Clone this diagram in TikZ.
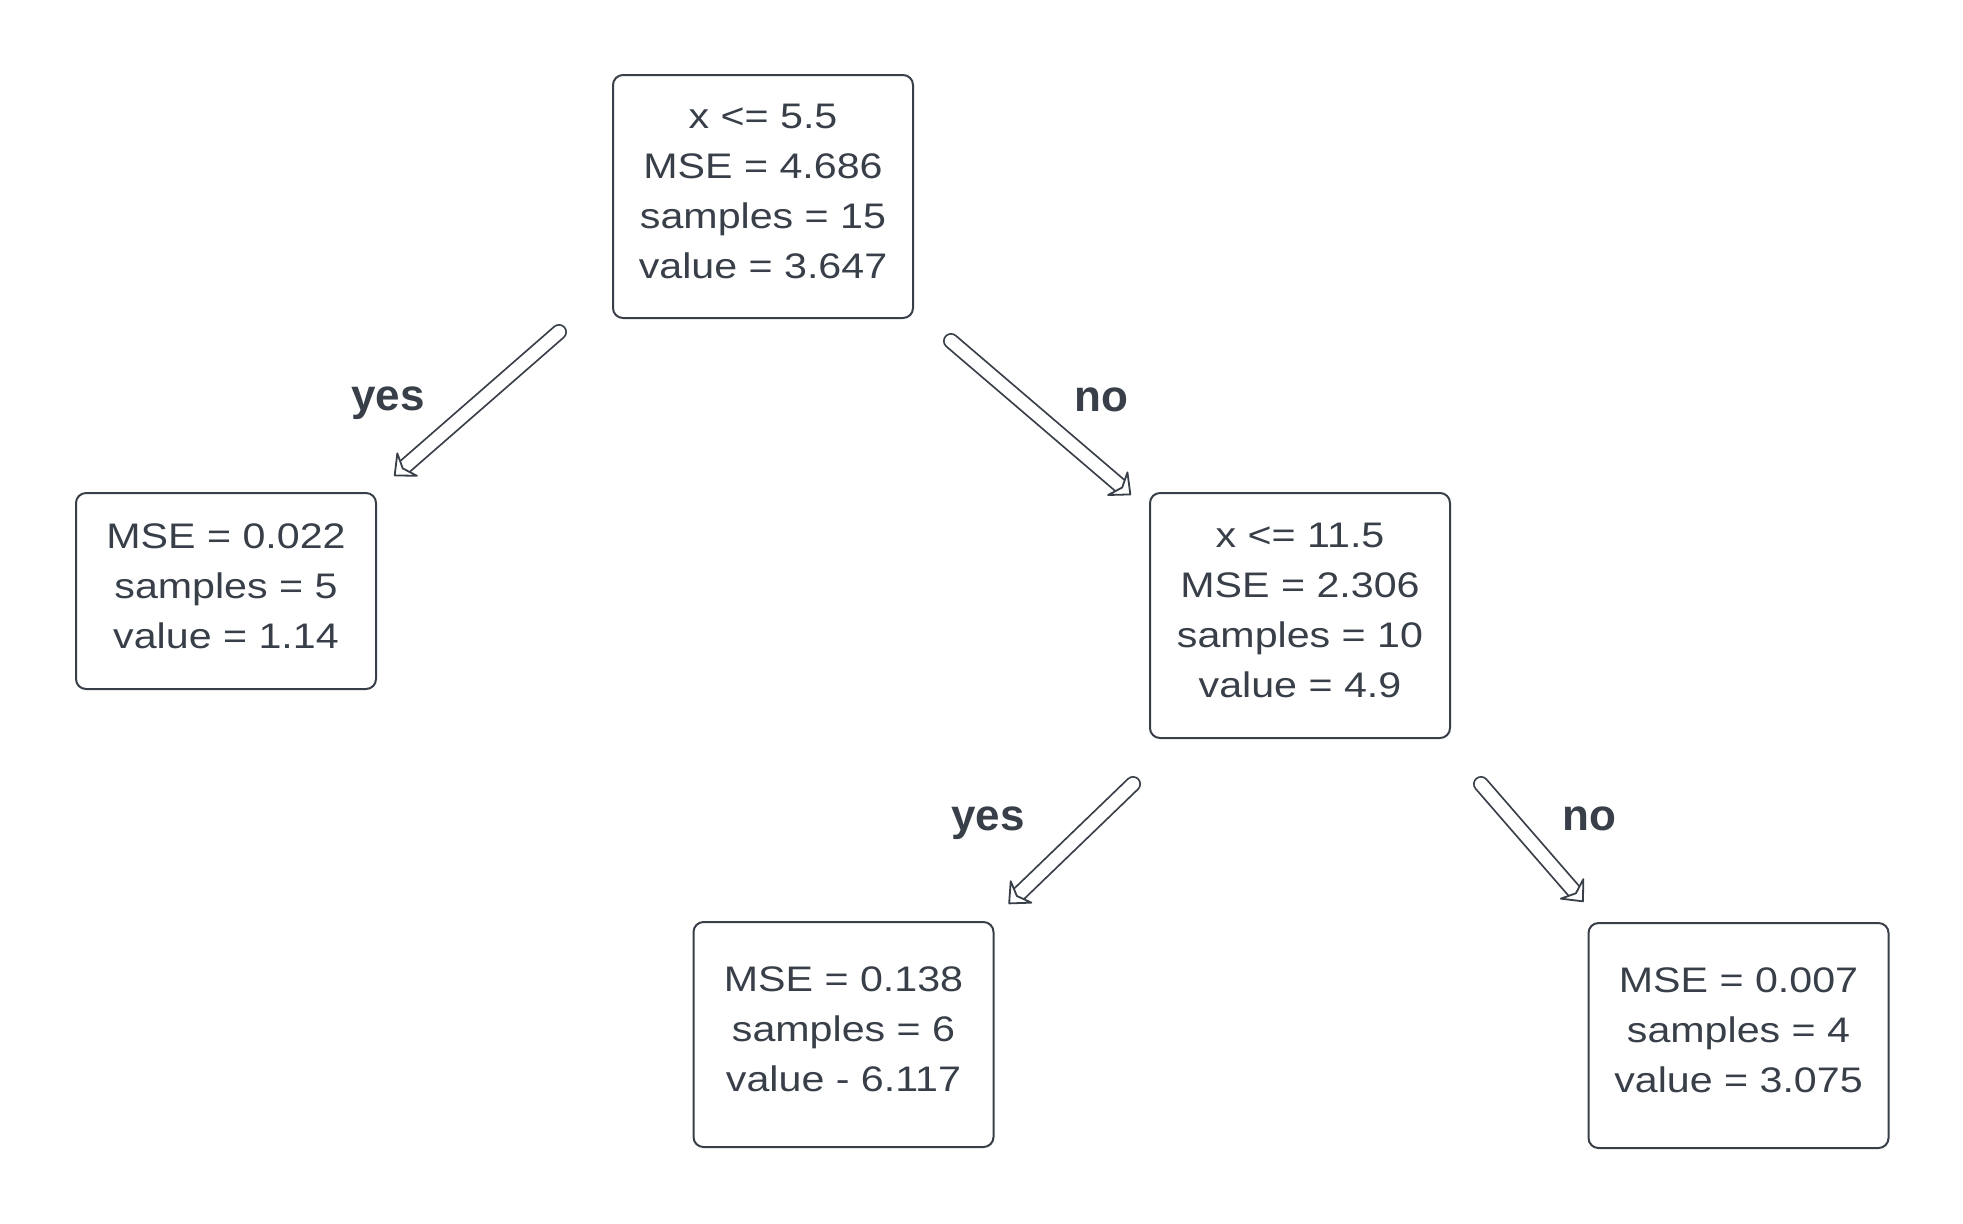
\documentclass[tikz,border=0pt]{standalone}
\usepackage{fontspec}
\setmainfont{Liberation Sans}[FakeStretch=1.16]
\newfontfamily\branchfont{Liberation Sans}
\usepackage{tikz}
\usetikzlibrary{arrows.meta,calc}
\definecolor{ink}{HTML}{383F48}
\tikzstyle{treebox} = [rectangle, rounded corners=5pt, minimum width=150pt, draw=ink, line width=1pt, text=ink, align=center, text depth=5pt, font=\fontsize{17.75pt}{25pt}\selectfont]
\tikzstyle{branch} = [anchor=base, text=ink, font=\branchfont\bfseries\fontsize{22pt}{26pt}\selectfont]
\tikzstyle{shaft} = [draw=ink, line width=0.9pt, double=white, double distance=6.2pt, line cap=round, shorten >=6pt]
\tikzstyle{head} = [draw=white, line width=0.9pt, line cap=butt, -{Stealth[color=ink, fill=white, length=10pt, width=18pt, inset=3.5pt, round]}]

\begin{document}
\begin{tikzpicture}[x=0.5pt, y=-0.5pt]
\useasboundingbox (0,0) rectangle (1963,1223);
\node (root) [treebox, minimum height=121.5pt] at (763,196.5) {x <= 5.5\\MSE = 4.686\\samples = 15\\value = 3.647};
\node (leftleaf) [treebox, minimum height=98pt] at (226,591) {MSE = 0.022\\samples = 5\\value = 1.14};
\node (split) [treebox, minimum height=122.5pt] at (1300,615.5) {x <= 11.5\\MSE = 2.306\\samples = 10\\value = 4.9};
\node (midleaf) [treebox, minimum height=112.5pt] at (843.5,1034.5) {MSE = 0.138\\samples = 6\\value - 6.117};
\node (rightleaf) [treebox, minimum height=112.5pt] at (1738.5,1035.5) {MSE = 0.007\\samples = 4\\value = 3.075};

\node (yesroot) [branch] at (388,410) {yes};
\node (noroot) [branch] at (1101,411) {no};
\node (yessplit) [branch] at (988,830) {yes};
\node (nosplit) [branch] at (1589,830) {no};

\coordinate (rootyes) at ($(root.south west)+(-53,13)$);
\coordinate (leftin) at ($(leftleaf.north east)+(17,-16)$);
\coordinate (rootno) at ($(root.south east)+(37,22)$);
\coordinate (splitin) at ($(split.north west)+(-18,3)$);
\coordinate (splityes) at ($(split.south west)+(-16,45)$);
\coordinate (midin) at ($(midleaf.north east)+(14,-17)$);
\coordinate (splitno) at ($(split.south east)+(30,45)$);
\coordinate (rightin) at ($(rightleaf.north west)+(-4,-20)$);

\draw [shaft] (rootyes) -- (leftin);
\draw [head] (rootyes) -- (leftin);
\draw [shaft] (rootno) -- (splitin);
\draw [head] (rootno) -- (splitin);
\draw [shaft] (splityes) -- (midin);
\draw [head] (splityes) -- (midin);
\draw [shaft] (splitno) -- (rightin);
\draw [head] (splitno) -- (rightin);
\end{tikzpicture}
\end{document}
